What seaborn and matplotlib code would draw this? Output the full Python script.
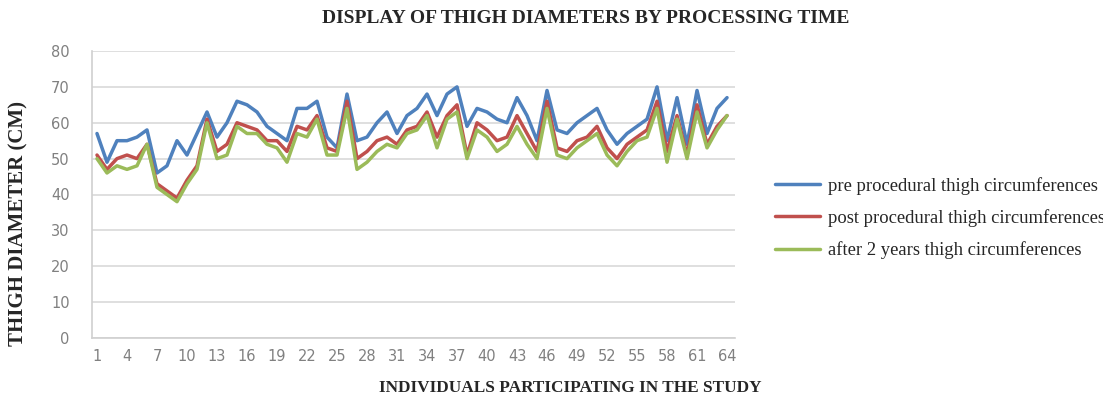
import matplotlib
matplotlib.use("Agg")
import matplotlib.pyplot as plt
import seaborn as sns
import pandas as pd

# Thigh measurements (cm) for each of the 64 participants
participants = list(range(1, 65))
pre_procedural = [57, 49, 55, 55, 56, 58, 46, 48, 55, 51, 57, 63, 56, 60, 66, 65,
                  63, 59, 57, 55, 64, 64, 66, 56, 53, 68, 55, 56, 60, 63, 57, 62,
                  64, 68, 62, 68, 70, 59, 64, 63, 61, 60, 67, 62, 55, 69, 58, 57,
                  60, 62, 64, 58, 54, 57, 59, 61, 70, 55, 67, 54, 69, 57, 64, 67]
post_procedural = [51, 47, 50, 51, 50, 54, 43, 41, 39, 44, 48, 61, 52, 54, 60, 59,
                   58, 55, 55, 52, 59, 58, 62, 53, 52, 66, 50, 52, 55, 56, 54, 58,
                   59, 63, 56, 62, 65, 51, 60, 58, 55, 56, 62, 57, 52, 66, 53, 52,
                   55, 56, 59, 53, 50, 54, 56, 58, 66, 52, 62, 51, 65, 54, 59, 62]
after_2_years = [50, 46, 48, 47, 48, 54, 42, 40, 38, 43, 47, 60, 50, 51, 59, 57,
                 57, 54, 53, 49, 57, 56, 61, 51, 51, 64, 47, 49, 52, 54, 53, 57,
                 58, 62, 53, 61, 63, 50, 58, 56, 52, 54, 59, 54, 50, 64, 51, 50,
                 53, 55, 57, 51, 48, 52, 55, 56, 64, 49, 61, 50, 63, 53, 58, 62]

series_names = ["pre procedural thigh circumferences",
                "post procedural thigh circumferences",
                "after 2 years thigh circumferences"]
series_colors = ["#4F81BD", "#C0504D", "#9BBB59"]
x_ticks = list(range(1, 65, 3))
y_ticks = list(range(0, 81, 10))

df = pd.DataFrame({
    "participant": participants * 3,
    "value": pre_procedural + post_procedural + after_2_years,
    "series": sum([[n] * len(participants) for n in series_names], []),
})

sns.set_theme(style="white")
plt.rcParams["font.family"] = ["Liberation Serif", "DejaVu Serif"]

fig = plt.figure(figsize=(11.03, 4.0), dpi=100)
ax = fig.add_axes([0.0834, 0.155, 0.5830, 0.7175])

sns.lineplot(data=df, x="participant", y="value", hue="series",
             palette=dict(zip(series_names, series_colors)),
             hue_order=series_names, linewidth=2.5, ax=ax, legend=True)

ax.set_xlim(0.5, 64.8)
ax.set_ylim(0, 80)
ax.set_xticks(x_ticks)
ax.set_yticks(y_ticks)
tick_font = dict(family=["DejaVu Sans"], size=10.5, color="#808080")
ax.set_xticklabels([str(t) for t in x_ticks], **tick_font)
ax.set_yticklabels([str(t) for t in y_ticks], **tick_font)
ax.tick_params(axis="y", length=0, pad=16)
ax.tick_params(axis="x", length=0, pad=8)
ax.yaxis.grid(True, color="#D9D9D9", linewidth=1.2)
ax.xaxis.grid(False)
for side in ["top", "right"]:
    ax.spines[side].set_visible(False)
for side in ["left", "bottom"]:
    ax.spines[side].set_color("#D0D0D0")
    ax.spines[side].set_linewidth(1.2)
ax.set_xlabel("")
ax.set_ylabel("")

fig.text(0.531, 0.953, "DISPLAY OF THIGH DIAMETERS BY PROCESSING TIME",
         ha="center", va="center", fontsize=14, fontweight="bold")
fig.text(0.517, 0.03, "INDIVIDUALS PARTICIPATING IN THE STUDY",
         ha="center", va="center", fontsize=12.4, fontweight="bold")
fig.text(0.017, 0.4425, "THIGH DIAMETER (CM)", rotation=90,
         ha="center", va="center", fontsize=15, fontweight="bold")

handles, labels = ax.get_legend_handles_labels()
leg = ax.legend(handles, labels, loc="center left",
                bbox_to_anchor=(0.7026, 0.455), bbox_transform=fig.transFigure,
                frameon=False, fontsize=13.4, handlelength=2.4,
                handletextpad=0.43, labelspacing=0.77,
                borderpad=0, borderaxespad=0)
for line in leg.get_lines():
    line.set_linewidth(2.5)

fig.savefig("out.png", dpi=100, facecolor="white")
